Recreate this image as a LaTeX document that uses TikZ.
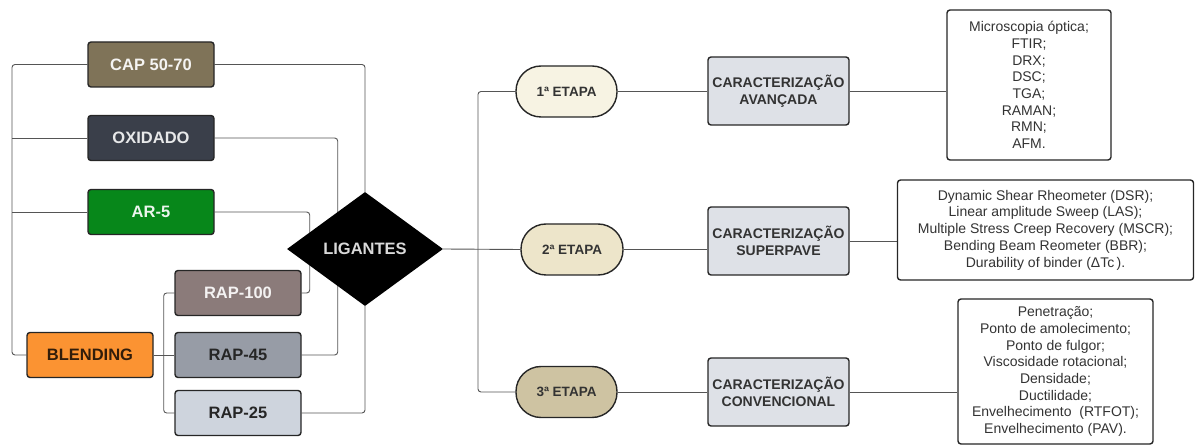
\documentclass[tikz,border=0pt]{standalone}
\usepackage{fontspec}
\setmainfont{Liberation Sans}
\usetikzlibrary{shapes.geometric,calc,backgrounds}

\definecolor{corcap}{HTML}{7F7358}
\definecolor{coroxi}{HTML}{3A3F4A}
\definecolor{corar}{HTML}{07871A}
\definecolor{corblend}{HTML}{FB9332}
\definecolor{corrapum}{HTML}{8B7B7A}
\definecolor{corrapdois}{HTML}{979CA6}
\definecolor{corraptres}{HTML}{CED4DD}
\definecolor{coretapaum}{HTML}{F7F3E3}
\definecolor{coretapadois}{HTML}{EDE5CA}
\definecolor{coretapatres}{HTML}{CEC3A2}
\definecolor{corcarac}{HTML}{DEE1E7}
\definecolor{corlinha}{HTML}{555555}

\begin{document}
\begin{tikzpicture}[x=1pt, y=-1pt,
  caixa/.style={draw=black!85, line width=1.4pt, rounded corners=3pt,
    minimum width=126pt, minimum height=45pt, inner sep=0pt,
    font=\fontsize{16.5}{18}\selectfont\bfseries},
  etapa/.style={draw=black!85, line width=1.4pt, rounded corners=25pt,
    minimum width=101pt, minimum height=51pt, inner sep=0pt, text=black!80,
    font=\fontsize{13.5}{16}\selectfont\bfseries},
  carac/.style={draw=black!85, line width=1.4pt, rounded corners=3pt, fill=corcarac,
    minimum width=141pt, minimum height=68pt, inner sep=0pt, align=center, text=black!80,
    font=\fontsize{14}{17.3}\selectfont\bfseries},
  lista/.style={draw=black!85, line width=1.4pt, rounded corners=3pt, fill=white,
    inner sep=0pt, align=center, text=black!80, font=\fontsize{14}{16.7}\selectfont},
  lig/.style={draw=corlinha, line width=0.9pt, rounded corners=3pt}]
  \useasboundingbox (0,0) rectangle (1195,446);
  % ligantes
  \node [caixa, fill=corcap, text=white!92!corcap] (CAP) at (151,64.5) {CAP 50-70};
  \node [caixa, fill=coroxi, text=white!88!coroxi] (OXI) at (151,138) {OXIDADO};
  \node [caixa, fill=corar, text=white!92!corar] (AR) at (151,212) {AR-5};
  \node [caixa, fill=corblend, text=black!80!corblend] (BLEND) at (90,355) {BLENDING};
  \node [caixa, fill=corrapum, text=white!90!corrapum] (RAPum) at (238,293) {RAP-100};
  \node [caixa, fill=corrapdois, text=black!85] (RAPdois) at (238,355) {RAP-45};
  \node [caixa, fill=corraptres, text=black!85] (RAPtres) at (238,413) {RAP-25};
  \node [diamond, fill=black, text=white!85!black, inner sep=0pt,
         minimum width=156pt, minimum height=114pt,
         font=\fontsize{16.5}{18}\selectfont\bfseries] (LIG) at (365,249) {LIGANTES};
  % etapas
  \node [etapa, fill=coretapaum] (E1) at (566.5,91.5) {1ª ETAPA};
  \node [etapa, fill=coretapadois, minimum width=102pt] (E2) at (572,249.5) {2ª ETAPA};
  \node [etapa, fill=coretapatres] (E3) at (566.5,392) {3ª ETAPA};
  \node [carac] (C1) at (778.5,91) {CARACTERIZAÇÃO\\AVANÇADA};
  \node [carac] (C2) at (778.5,241) {CARACTERIZAÇÃO\\SUPERPAVE};
  \node [carac] (C3) at (778.5,392) {CARACTERIZAÇÃO\\CONVENCIONAL};
  % ensaios
  \node [lista, minimum width=164pt, minimum height=150pt] (L1) at (1029,85)
    {Microscopia óptica;\\FTIR;\\DRX;\\DSC;\\TGA;\\RAMAN;\\RMN;\\AFM.};
  \node [lista, minimum width=296pt, minimum height=100pt] (L2) at (1045.5,230)
    {Dynamic Shear Rheometer (DSR);\\Linear amplitude Sweep (LAS);\\
     Multiple Stress Creep Recovery (MSCR);\\Bending Beam Reometer (BBR);\\
     Durability of binder (ΔTc\,).};
  \node [lista, minimum width=195pt, minimum height=145pt] (L3) at (1055.5,371.5)
    {Penetração;\\Ponto de amolecimento;\\Ponto de fulgor;\\Viscosidade rotacional;\\
     Densidade;\\Ductilidade;\\Envelhecimento\ \ (RTFOT);\\Envelhecimento (PAV).};
  % linhas
  \begin{pgfonlayer}{background}
    \coordinate (esq) at (12,355);
    \draw [lig] (CAP.west) -| (esq) -- (BLEND.west);
    \draw [lig] (OXI.west) -- (OXI.west -| esq);
    \draw [lig] (AR.west) -- (AR.west -| esq);
    \draw [lig] (CAP.east) -| (LIG.north);
    \draw [lig] (OXI.east) -| ($(RAPdois.east)+(36,0)$) -- (RAPdois.east);
    \draw [lig] (AR.east) -| ($(RAPum.east)+(8,0)$) -- (RAPum.east);
    \draw [lig] (RAPtres.east) -| (LIG.south);
    \coordinate (bl) at ($(BLEND.east)+(10,0)$);
    \draw [lig] (BLEND.east) -- (RAPdois.west);
    \draw [lig] (RAPum.west) -| (bl) |- (RAPtres.west);
    \coordinate (dir) at (478,249);
    \draw [lig] (LIG.east) -- (E2.west);
    \draw [lig] (E1.west) -| (dir) |- (E3.west);
    \draw [lig] (E1.east) -- (E1.east -| C1.west);
    \draw [lig] (E2.east) -- (E2.east -| C2.west);
    \draw [lig] (E3.east) -- (E3.east -| C3.west);
    \draw [lig] (C1.east) -- (C1.east -| L1.west);
    \draw [lig] (C2.east) -- (C2.east -| L2.west);
    \draw [lig] (C3.east) -- (C3.east -| L3.west);
  \end{pgfonlayer}
\end{tikzpicture}
\end{document}
